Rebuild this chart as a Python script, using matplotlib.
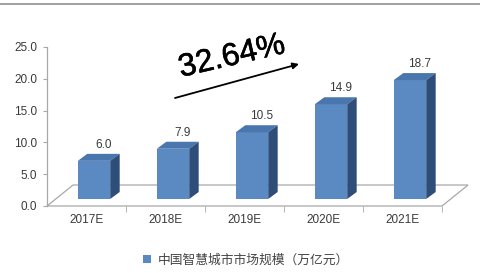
import matplotlib
matplotlib.use('Agg')
import matplotlib.pyplot as plt
import matplotlib.patheffects as pe
from matplotlib.patches import Polygon, Patch
from matplotlib.lines import Line2D

categories = ['2017E', '2018E', '2019E', '2020E', '2021E']
values = [6.0, 7.9, 10.5, 14.9, 18.7]
yticks = [0, 5, 10, 15, 20, 25]
ytick_labels = ['0.0', '5.0', '10.0', '15.0', '20.0', '25.0']
growth_label = '32.64%'
legend_label = '中国智慧城市市场规模（万亿元）'

plt.rcParams['font.family'] = ['Liberation Sans', 'DejaVu Sans']

W, H = 480, 273
fig = plt.figure(figsize=(W / 100, H / 100), dpi=100)
ax = fig.add_axes([47 / W, (H - 206) / H, 395 / W, 159 / H])
ax.set_xlim(0, len(categories))
ax.set_ylim(0, 25)

front_c = '#5B89C2'
top_c = '#4A76AE'
side_c = '#2E4D78'
grid_c = '#A8A8A8'
text_c = '#3A3A3A'

# floor
fdx, fdy = 0.33, 3.3
n = len(categories)
floor = Polygon([(0, 0), (n, 0), (n + fdx, fdy), (fdx, fdy)], closed=True,
                facecolor='white', edgecolor=grid_c, lw=0.9, clip_on=False, zorder=1)
ax.add_patch(floor)

# bars
base = 1.1
w = 0.41
dx, dy = 0.12, 1.1
xs = [i + 0.595 for i in range(n)]
ax.bar(xs, values, bottom=base, width=w, color=front_c, edgecolor='none', zorder=3)
for x, v in zip(xs, values):
    x0, x1 = x - w / 2, x + w / 2
    t = base + v
    ax.add_patch(Polygon([(x0, t), (x1, t), (x1 + dx, t + dy), (x0 + dx, t + dy)],
                         closed=True, facecolor=top_c, edgecolor='none', zorder=3, clip_on=False))
    ax.add_patch(Polygon([(x1, base), (x1 + dx, base + dy), (x1 + dx, t + dy), (x1, t)],
                         closed=True, facecolor=side_c, edgecolor='none', zorder=3, clip_on=False))
    ax.text(x + 0.125, t + dy + 1.4, f'{v:.1f}', ha='center', va='center',
            fontsize=8.5, color=text_c, zorder=4)

# axes styling
for s in ['top', 'right', 'bottom']:
    ax.spines[s].set_visible(False)
ax.spines['left'].set_color(grid_c)
ax.spines['left'].set_linewidth(0.9)
ax.set_yticks(yticks)
ax.set_yticklabels(ytick_labels)
ax.tick_params(axis='y', length=3, color=grid_c, labelsize=8.5, labelcolor=text_c, pad=4)
ax.set_xticks([i + 0.5 for i in range(n)])
ax.set_xticklabels(categories)
ax.set_xticks(list(range(1, n + 1)), minor=True)
ax.tick_params(axis='x', which='major', length=0, labelsize=8.5, labelcolor=text_c, pad=6)
ax.tick_params(axis='x', which='minor', length=4, color=grid_c, direction='out')

# growth annotation
fig.text(232 / W, 1 - 57 / H, growth_label, fontsize=23, rotation=13,
         ha='center', va='center', color='black',
         path_effects=[pe.withStroke(linewidth=0.4, foreground='black')])
ax.annotate('', xy=(299 / W, 1 - 64 / H), xytext=(175 / W, 1 - 98 / H),
            xycoords='figure fraction', textcoords='figure fraction',
            arrowprops=dict(arrowstyle='-|>', color='black', lw=1.3, mutation_scale=9,
                            shrinkA=0, shrinkB=0))

# legend
fig.legend(handles=[Patch(facecolor=front_c, edgecolor='none', label=legend_label)],
           loc='center', bbox_to_anchor=(246 / W, 1 - 260 / H), frameon=False,
           handlelength=0.6, handleheight=0.6, handletextpad=0.5,
           prop={'family': ['Noto Sans CJK SC', 'DejaVu Sans'], 'size': 9.2},
           labelcolor='#444444')

# top rule
fig.add_artist(Line2D([0, 1], [1 - 3.5 / H, 1 - 3.5 / H], transform=fig.transFigure,
                      color='#9A9A9A', lw=1.3))

fig.savefig('out.png', dpi=100)
